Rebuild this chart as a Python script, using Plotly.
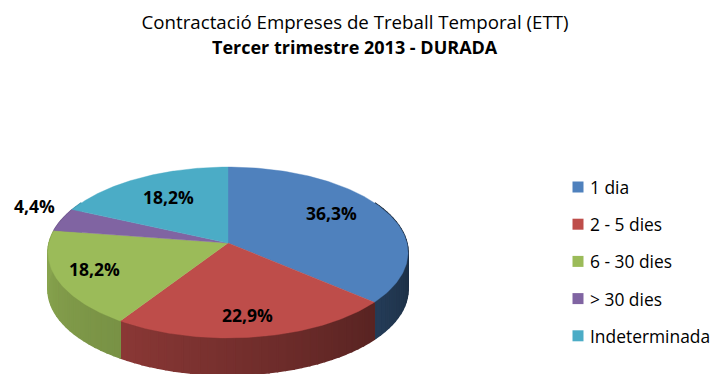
import numpy as np
import plotly.graph_objects as go

title_text = "Contractació Empreses de Treball Temporal (ETT)"
subtitle_text = "Tercer trimestre 2013 - DURADA"
categories = ["1 dia", "2 - 5 dies", "6 - 30 dies", "> 30 dies", "Indeterminada"]
values = [36.3, 22.9, 18.2, 4.4, 18.2]
labels = ["36,3%", "22,9%", "18,2%", "4,4%", "18,2%"]
colors = ["#4F81BD", "#BE4D4A", "#9BBB59", "#8064A2", "#4BACC6"]

# geometry of the tilted disc, in page pixels
CX, CY, RX, RY, K, DEPTH = 228, 243, 178.9, 84.4, 0.111, 37
FONT = "Open Sans"
# where each label sits relative to its slice's radial position
LABEL_R = [0.72, 0.75, 0.72, 1.16, 0.62]
LABEL_SHIFT = [(-10, 5), (-1, -4), (-12, 0), (-2, 10), (-3, 4)]
LEGEND_X, LEGEND_TEXT_X, LEGEND_Y, LEGEND_STEP = 578, 588, 187, 37.2


def project(theta_deg, r=1.0):
    t = np.radians(theta_deg)
    u, v = r * np.sin(t), r * np.cos(t)
    w = 1 + K * v
    return CX + RX * u / w, CY - RY * v / w


def shade(theta):
    """Brightness of the rim by angle."""
    if theta < 213:
        return 0.40 + (theta - 110) / 103 * 0.33
    return 0.78 + min(theta - 213, 55) / 55 * 0.10


def scaled(hex_color, f):
    rgb = [int(hex_color[i:i + 2], 16) for i in (1, 3, 5)]
    return "rgb(%d,%d,%d)" % tuple(int(c * f) for c in rgb)


total = sum(values)
edges = np.concatenate([[0], np.cumsum(values) / total * 360])
fig = go.Figure()

# rim
for i, col in enumerate(colors):
    a0, a1 = max(edges[i], 60), min(edges[i + 1], 300)
    if a1 <= a0:
        continue
    steps = np.append(np.arange(a0, a1, 2.5), a1)
    for s0, s1 in zip(steps[:-1], steps[1:]):
        x0, y0 = project(s0)
        x1, y1 = project(s1)
        c = scaled(col, shade((s0 + s1) / 2))
        fig.add_trace(go.Scatter(
            x=[x0, x1, x1, x0, x0], y=[y0, y1, y1 + DEPTH, y0 + DEPTH, y0],
            mode="lines", fill="toself", fillcolor=c, line=dict(color=c, width=1.6),
            showlegend=False, hoverinfo="skip"))

# top face
for i, col in enumerate(colors):
    t = np.linspace(edges[i], edges[i + 1], 120)
    x, y = project(t)
    fig.add_trace(go.Scatter(
        x=np.concatenate([[CX], x, [CX]]), y=np.concatenate([[CY], y, [CY]]),
        mode="lines", fill="toself", fillcolor=col, line=dict(color=col, width=0.4),
        name=categories[i], showlegend=False, hoverinfo="skip"))

annotations = []
for i, lab in enumerate(labels):
    mid = (edges[i] + edges[i + 1]) / 2
    px, py = project(mid, LABEL_R[i])
    annotations.append(dict(
        x=float(px), y=float(py), xref="x", yref="y", text="<b>%s</b>" % lab,
        showarrow=False, xshift=LABEL_SHIFT[i][0], yshift=LABEL_SHIFT[i][1],
        font=dict(family=FONT, size=17.5, color="black")))

# legend column
for i, (name, col) in enumerate(zip(categories, colors)):
    ly = LEGEND_Y + i * LEGEND_STEP
    fig.add_trace(go.Scatter(
        x=[LEGEND_X], y=[ly], mode="markers", name=name, showlegend=False,
        marker=dict(symbol="square", size=11, color=col), hoverinfo="name"))
    annotations.append(dict(
        x=LEGEND_TEXT_X, y=ly, xref="x", yref="y", text=name, showarrow=False,
        xanchor="left", yanchor="middle", font=dict(family=FONT, size=17.4, color="black")))

annotations.append(dict(
    x=355, y=47, xref="x", yref="y", text="<b>%s</b>" % subtitle_text, showarrow=False,
    font=dict(family=FONT, size=18, color="black")))

fig.update_layout(
    width=713, height=374, margin=dict(l=0, r=0, t=0, b=0),
    paper_bgcolor="white", plot_bgcolor="white",
    font=dict(family=FONT, color="black"),
    title=dict(text=title_text, x=0.498, xanchor="center", y=0.94, yanchor="middle",
               font=dict(family=FONT, size=18.7, color="black")),
    xaxis=dict(range=[0, 713], visible=False, fixedrange=True),
    yaxis=dict(range=[374, 0], visible=False, fixedrange=True),
    showlegend=False,
    annotations=annotations,
)
fig.write_html("out.html", config=dict(displayModeBar=False),
               post_script="document.body.style.margin='0';")
